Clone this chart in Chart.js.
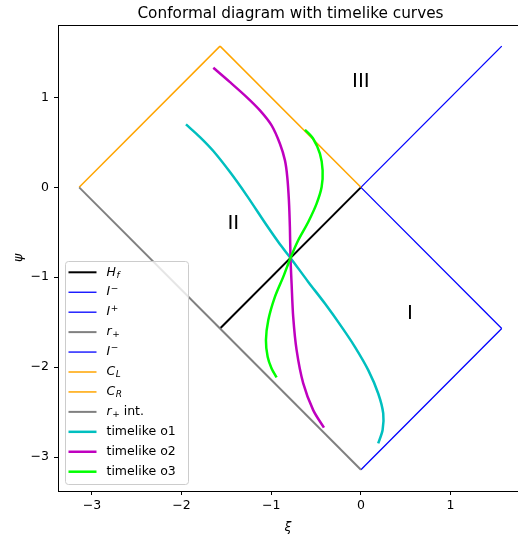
<!DOCTYPE html>
<html>
<head>
<meta charset="utf-8">
<script src="https://cdn.jsdelivr.net/npm/chart.js@4.4.0/dist/chart.umd.min.js"></script>
<style>
  html, body { margin: 0; padding: 0; background: #fff; overflow: hidden; }
</style>
</head>
<body>
<canvas id="diagram" width="518" height="538"></canvas>
<script>
const PI = Math.PI;

// boundary segments (xi, psi)
const HF_XI = [-PI / 2, 0];
const HF_PSI = [-PI / 2, 0];
const IMINUS_XI = [0, PI / 2];
const IMINUS_PSI = [-PI, -PI / 2];
const IPLUS_XI = [PI / 2, 0];
const IPLUS_PSI = [-PI / 2, 0];
const RPLUS_XI = [-PI / 2, 0];
const RPLUS_PSI = [-PI / 2, -PI];
const IMINUS2_XI = [0, PI / 2];
const IMINUS2_PSI = [0, PI / 2];
const CL_XI = [-PI, -PI / 2];
const CL_PSI = [0, PI / 2];
const CR_XI = [-PI / 2, 0];
const CR_PSI = [PI / 2, 0];
const RINT_XI = [-PI, -PI / 2];
const RINT_PSI = [0, -PI / 2];

// timelike curves
const O1_XI = [-1.951, -1.795, -1.646, -1.46, -1.274, -1.051, -0.903, -0.785, -0.587, -0.401, -0.215, -0.067, 0.082, 0.193, 0.249, 0.242, 0.193];
const O1_PSI = [0.70, 0.559, 0.404, 0.17, -0.089, -0.422, -0.633, -0.785, -1.052, -1.293, -1.552, -1.774, -2.033, -2.293, -2.515, -2.70, -2.848];
const O2_XI = [-1.646, -1.46, -1.274, -1.126, -0.996, -0.903, -0.847, -0.821, -0.803, -0.792, -0.785, -0.773, -0.755, -0.717, -0.643, -0.532, -0.412];
const O2_PSI = [1.33, 1.17, 1.004, 0.856, 0.689, 0.485, 0.30, 0.115, -0.144, -0.441, -0.785, -1.07, -1.441, -1.811, -2.181, -2.478, -2.674];
const O3_XI = [-0.624, -0.532, -0.457, -0.427, -0.438, -0.494, -0.587, -0.699, -0.785, -0.866, -0.959, -1.033, -1.059, -1.04, -0.996, -0.94];
const O3_PSI = [0.641, 0.541, 0.374, 0.189, 0.003, -0.181, -0.385, -0.589, -0.785, -0.996, -1.219, -1.478, -1.70, -1.885, -2.015, -2.115];

const LEGEND_LABELS = ['H_f', 'I^\u2212', 'I^+', 'r_+', 'I^\u2212', 'C_L', 'C_R', 'r_+ int.', 'timelike o1', 'timelike o2', 'timelike o3'];

const REGION_TEXT = ['III', 'II', 'I'];
const REGION_XI = [0.0, -1.423, 0.546];
const REGION_PSI = [1.17, -0.404, -1.41];

const X_TICKS = [-3, -2, -1, 0, 1];
const Y_TICKS = [-3, -2, -1, 0, 1];

const FONT = "'DejaVu Sans', sans-serif";

function pts(xs, ys) {
    return xs.map((x, i) => ({ x: x, y: ys[i] }));
}

const series = [
    [HF_XI, HF_PSI, '#000000', 2],
    [IMINUS_XI, IMINUS_PSI, '#0000ff', 1.3],
    [IPLUS_XI, IPLUS_PSI, '#0000ff', 1.3],
    [RPLUS_XI, RPLUS_PSI, '#808080', 2],
    [IMINUS2_XI, IMINUS2_PSI, '#0000ff', 1.3],
    [CL_XI, CL_PSI, '#ffa500', 1.5],
    [CR_XI, CR_PSI, '#ffa500', 1.5],
    [RINT_XI, RINT_PSI, '#808080', 2],
    [O1_XI, O1_PSI, '#00bfbf', 2.5],
    [O2_XI, O2_PSI, '#bf00bf', 2.5],
    [O3_XI, O3_PSI, '#00ff00', 2.5],
];

const datasets = series.map((s, i) => ({
    label: LEGEND_LABELS[i],
    data: pts(s[0], s[1]),
    borderColor: s[2],
    backgroundColor: s[2],
    borderWidth: s[3],
    pointRadius: 0,
    tension: i >= 8 ? 0.3 : 0,
    fill: false,
    order: -i,
}));

const minus = (v) => (v < 0 ? '\u2212' + Math.abs(v) : String(v));

// legend label like H_f, r_+ int., I^-
function drawLabel(ctx, text, x, y) {
    const m = text.match(/^([A-Za-z])([_^])(\S)(.*)$/);
    ctx.textBaseline = 'middle';
    ctx.textAlign = 'left';
    if (!m || text.startsWith('timelike')) {
        ctx.font = '12.5px ' + FONT;
        ctx.fillText(text, x, y);
        return;
    }
    ctx.font = 'italic 12.5px ' + FONT;
    ctx.fillText(m[1], x, y);
    let cx = x + ctx.measureText(m[1]).width + 0.5;
    const isLetter = /[A-Za-z]/.test(m[3]);
    ctx.font = (isLetter ? 'italic ' : '') + '9px ' + FONT;
    const dy = m[2] === '_' ? 3 : -4;
    ctx.fillText(m[3], cx, y + dy);
    cx += ctx.measureText(m[3]).width;
    if (m[4]) {
        ctx.font = '12.5px ' + FONT;
        ctx.fillText(m[4], cx, y);
    }
}

const decorations = {
    id: 'decorations',
    afterDraw(chart) {
        const ctx = chart.ctx;
        const area = chart.chartArea;
        const xs = chart.scales.x;
        const ys = chart.scales.y;
        ctx.save();
        // top spine
        ctx.strokeStyle = '#000';
        ctx.lineWidth = 1;
        ctx.beginPath();
        ctx.moveTo(area.left, area.top + 0.5);
        ctx.lineTo(area.right, area.top + 0.5);
        ctx.stroke();

        // title
        ctx.fillStyle = '#000';
        ctx.font = '15.3px ' + FONT;
        ctx.textAlign = 'center';
        ctx.textBaseline = 'alphabetic';
        ctx.fillText('Conformal diagram with timelike curves', 290.5, 17.5);

        // region labels
        ctx.font = '20px ' + FONT;
        ctx.textBaseline = 'middle';
        REGION_TEXT.forEach((t, i) => {
            ctx.fillText(t, xs.getPixelForValue(REGION_XI[i]), ys.getPixelForValue(REGION_PSI[i]));
        });

        // legend
        const lx = 65, ly = 261, lw = 123, lh = 223;
        ctx.beginPath();
        ctx.roundRect(lx + 0.5, ly + 0.5, lw, lh, 3);
        ctx.fillStyle = 'rgba(255,255,255,0.8)';
        ctx.fill();
        ctx.strokeStyle = '#cccccc';
        ctx.lineWidth = 1;
        ctx.stroke();
        chart.data.datasets.forEach((ds, i) => {
            const y = 272.3 + i * 19.94;
            ctx.strokeStyle = ds.borderColor;
            ctx.lineWidth = ds.borderWidth;
            ctx.beginPath();
            ctx.moveTo(68.5, y);
            ctx.lineTo(96.5, y);
            ctx.stroke();
            ctx.fillStyle = '#000';
            drawLabel(ctx, LEGEND_LABELS[i], 106.5, y);
        });
        ctx.restore();
    },
};

new Chart(document.getElementById('diagram'), {
    type: 'line',
    data: { datasets: datasets },
    options: {
        responsive: false,
        animation: false,
        devicePixelRatio: 1,
        layout: { padding: { top: 25, right: 0, left: 0, bottom: 0 } },
        plugins: {
            legend: { display: false },
            title: { display: false },
            tooltip: { enabled: false },
        },
        scales: {
            x: {
                type: 'linear',
                min: -3.378,
                max: 1.752,
                afterFit: (s) => { s.height = 47; },
                afterBuildTicks: (s) => { s.ticks = X_TICKS.map((v) => ({ value: v })); },
                ticks: {
                    font: { family: FONT, size: 12.5 },
                    color: '#000',
                    padding: 3,
                    maxRotation: 0,
                    callback: minus,
                },
                grid: { drawOnChartArea: false, tickLength: 4, tickColor: '#000' },
                border: { color: '#000', width: 1 },
                title: {
                    display: true,
                    text: '\u03be',
                    color: '#000',
                    font: { family: FONT, size: 12.5, style: 'italic' },
                    padding: { top: 0, bottom: 3 },
                },
            },
            y: {
                type: 'linear',
                min: -3.378,
                max: 1.806,
                afterFit: (s) => { s.width = 58; },
                afterBuildTicks: (s) => { s.ticks = Y_TICKS.map((v) => ({ value: v })); },
                ticks: {
                    font: { family: FONT, size: 12.5 },
                    color: '#000',
                    padding: 5,
                    callback: minus,
                },
                grid: { drawOnChartArea: false, tickLength: 4, tickColor: '#000' },
                border: { color: '#000', width: 1 },
                title: {
                    display: true,
                    text: '\u03c8',
                    color: '#000',
                    font: { family: FONT, size: 12.5, style: 'italic' },
                    padding: { top: 11, bottom: 0 },
                },
            },
        },
    },
    plugins: [decorations],
});
</script>
</body>
</html>
